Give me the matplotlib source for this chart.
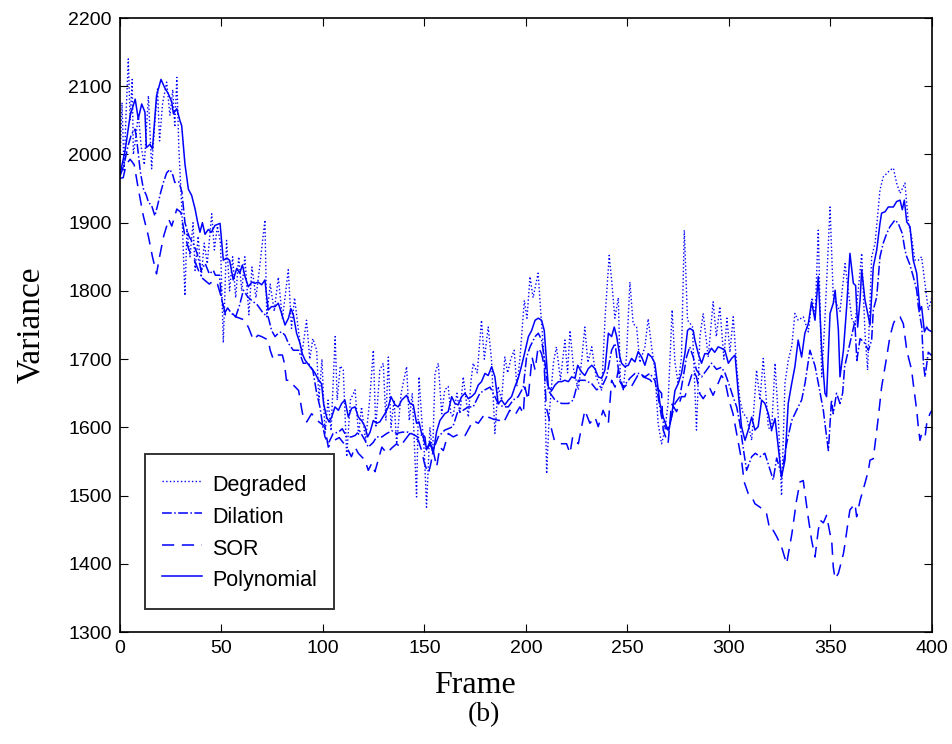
import numpy as np
import matplotlib
matplotlib.use('Agg')
import matplotlib.pyplot as plt

# values, (frame, variance) pairs per method
deg_f = [0, 1, 2, 3, 4.1, 5, 6, 6.6, 8, 9, 10.5, 12, 14, 15.6, 17, 18.5, 19.5, 21, 23, 24.6,
         26, 27, 28, 29, 30.4, 32, 33, 34.5, 36, 37, 38.5, 40, 41.5, 43, 45.2, 46.5, 48, 49.5,
         50.9, 52.5, 54, 55.5, 57, 58.5, 60, 61.5, 63.5, 65, 67, 69, 71.4, 72.3, 74, 76, 78, 80,
         81.5, 82.9, 84.5, 86, 88, 89.5, 91.9, 93.5, 95, 96.9, 98, 99.5, 101, 102.5, 104, 106,
         107, 108.5, 110, 111.7, 113.5, 115.8, 117.5, 119, 121, 123, 124.8, 126, 128, 129.7,
         131, 132.2, 133.5, 135, 136.3, 138.5, 141.2, 142.5, 144, 146.1, 147.3, 148.6, 150, 151,
         152.7, 154, 155.2, 156.8, 158.5, 160, 161.7, 163, 164, 166, 167.5, 169.1, 171.6, 173,
         174, 176, 178.1, 179.5, 181.4, 183, 184.7, 186.3, 188, 189.6, 191, 192.5, 194.2, 195.5,
         197, 199.2, 200.5, 202, 203.5, 206, 207.5, 209, 210.2, 211.5, 213.5, 215, 217, 219.2,
         220.5, 221.7, 223.5, 225.8, 227.5, 229, 230.5, 232.4, 234.5, 237.3, 239, 241, 242.2,
         243.8, 245.5, 246.5, 247.9, 249.5, 251.2, 252.8, 254.5, 256.1, 258.6, 260.2, 261.9,
         263.5, 265.1, 266.8, 268.4, 270, 272, 273.4, 275, 276.6, 278, 279.6, 282, 284, 285.7,
         287.3, 289.8, 292.2, 293.8, 295.5, 297.5, 299, 300.5, 302.1, 303.8, 305.4, 307, 308.7,
         311.2, 313.6, 315.3, 316.9, 319.4, 321, 322.7, 324.3, 325.9, 327.6, 329.2, 331, 332.5,
         334.1, 336.6, 339.1, 341, 342.4, 344, 345.7, 347.3, 349.8, 351.4, 353.1, 354.7, 357.2,
         358.8, 360.5, 362.1, 365.4, 367, 368.3, 370.3, 372, 374.4, 376, 377.7, 379.3, 381,
         382.6, 384.3, 386.7, 388.4, 390, 391.6, 393.3, 394.9, 396.6, 398.2, 400]
deg_v = [1990, 2076, 1975, 2060, 2140, 2050, 2110, 2000, 2030, 2060, 2010, 1985, 2086, 1979,
         2040, 2096, 2020, 2075, 2106, 2057, 2095, 2040, 2113, 2008, 1925, 1793, 1890, 1850,
         1900, 1830, 1880, 1820, 1870, 1840, 1913, 1860, 1895, 1870, 1724, 1874, 1800, 1850,
         1790, 1850, 1800, 1850, 1765, 1835, 1790, 1840, 1904, 1762, 1810, 1770, 1820, 1760,
         1795, 1831, 1745, 1790, 1740, 1705, 1757, 1700, 1730, 1713, 1640, 1700, 1590, 1640,
         1595, 1733, 1640, 1690, 1684, 1557, 1640, 1655, 1590, 1630, 1580, 1640, 1713, 1600,
         1684, 1694, 1610, 1703, 1600, 1640, 1576, 1650, 1689, 1610, 1650, 1498, 1674, 1615,
         1560, 1483, 1600, 1560, 1679, 1694, 1620, 1655, 1660, 1620, 1615, 1650, 1620, 1674,
         1615, 1670, 1694, 1680, 1757, 1700, 1747, 1700, 1591, 1660, 1640, 1703, 1680, 1700,
         1713, 1660, 1700, 1786, 1760, 1821, 1790, 1826, 1760, 1700, 1532, 1620, 1694, 1718,
         1670, 1728, 1680, 1742, 1685, 1655, 1700, 1747, 1695, 1718, 1675, 1654, 1762, 1852,
         1816, 1760, 1790, 1670, 1655, 1703, 1813, 1752, 1747, 1695, 1718, 1759, 1718, 1684,
         1606, 1576, 1595, 1635, 1772, 1695, 1664, 1703, 1889, 1757, 1748, 1596, 1733, 1767,
         1703, 1784, 1733, 1777, 1700, 1760, 1710, 1762, 1690, 1640, 1620, 1615, 1581, 1684,
         1640, 1701, 1600, 1595, 1694, 1615, 1500, 1665, 1698, 1720, 1767, 1757, 1762, 1740,
         1790, 1760, 1889, 1674, 1760, 1923, 1790, 1780, 1770, 1840, 1800, 1760, 1750, 1855,
         1740, 1684, 1850, 1870, 1948, 1967, 1972, 1977, 1980, 1958, 1943, 1958, 1900, 1879,
         1845, 1845, 1850, 1810, 1772, 1790]

dil_f = [0, 2, 4, 5.7, 7.4, 8.2, 10, 11.5, 13, 14, 15.6, 17.2, 18.5, 20, 21.4, 23, 24.6, 26,
         27, 29, 30.5, 32, 34, 36, 38, 40, 42, 44, 46, 47, 49, 50, 51.5, 53, 55, 57, 59, 60.8,
         63, 65.7, 67.5, 69, 70.6, 73, 74.7, 76.4, 78, 79.6, 81.3, 83, 85.4, 88, 90.3, 92.8, 95,
         96.9, 98.5, 100, 101, 102.6, 105, 107.6, 109.5, 111.7, 114, 115.8, 118, 120.7, 122.3,
         124.8, 126.4, 129, 131.4, 134, 136.3, 139, 142, 145.5, 147, 149, 151, 152.7, 154.3,
         156.8, 160, 161.7, 164, 166.6, 169, 171.6, 174, 177.3, 179.8, 182.3, 184.7, 186.3,
         188.8, 191.3, 193.7, 196.2, 198.7, 200.3, 202, 204.5, 206.1, 207.7, 209.4, 211, 214.3,
         217.6, 220.9, 223.3, 225.8, 229, 232.4, 234.8, 237.3, 239.7, 242.2, 243.9, 246.3, 247.9,
         251.2, 253.7, 256.1, 258.6, 261, 263.5, 265.1, 266.8, 268.4, 270, 271.7, 273.4, 275.8,
         277.5, 279.1, 280.7, 282.4, 284, 286.5, 289, 291.4, 293.9, 296.3, 298, 300.5, 302,
         303.8, 305.4, 307, 308.7, 311.2, 313, 315.3, 317.7, 319.5, 321.8, 323.5, 325.9, 328.4,
         330.9, 333.3, 335.8, 337.5, 339.9, 342.4, 344, 346.5, 347.3, 349, 350.5, 351.4, 353,
         354.7, 356, 357, 358.8, 360.5, 362, 363, 364.6, 366.5, 368.7, 370.3, 371.1, 372.8,
         374.4, 376, 377.7, 379.3, 381.8, 383.4, 385.4, 386.7, 387.6, 389.2, 390.8, 392.5,
         393.3, 395, 395.8, 396.6, 398.2, 400]
dil_v = [1968, 1985, 2013, 2030, 2037, 2023, 1975, 1950, 1940, 1930, 1925, 1910, 1925, 1944,
         1959, 1973, 1978, 1970, 1959, 1960, 1945, 1900, 1880, 1870, 1855, 1830, 1840, 1825,
         1830, 1823, 1823, 1790, 1767, 1775, 1767, 1762, 1780, 1801, 1791, 1784, 1780, 1774,
         1767, 1762, 1742, 1733, 1738, 1740, 1735, 1723, 1713, 1713, 1694, 1694, 1684, 1650,
         1630, 1600, 1586, 1576, 1591, 1593, 1598, 1586, 1586, 1588, 1595, 1581, 1571, 1578,
         1586, 1586, 1591, 1595, 1591, 1593, 1593, 1588, 1585, 1590, 1567, 1575, 1567, 1586,
         1596, 1598, 1601, 1625, 1625, 1630, 1630, 1650, 1655, 1659, 1645, 1635, 1630, 1630,
         1640, 1645, 1659, 1703, 1718, 1733, 1738, 1728, 1694, 1654, 1640, 1635, 1635, 1640,
         1669, 1669, 1664, 1655, 1659, 1674, 1713, 1723, 1667, 1659, 1672, 1679, 1679, 1674,
         1679, 1669, 1645, 1615, 1601, 1596, 1615, 1635, 1645, 1674, 1703, 1718, 1703, 1684,
         1674, 1684, 1694, 1685, 1688, 1680, 1659, 1645, 1630, 1605, 1570, 1537, 1557, 1562,
         1557, 1562, 1545, 1523, 1555, 1530, 1576, 1610, 1625, 1640, 1665, 1713, 1690, 1665,
         1625, 1605, 1566, 1640, 1620, 1650, 1635, 1650, 1689, 1713, 1735, 1755, 1698, 1730,
         1725, 1713, 1728, 1772, 1791, 1850, 1870, 1884, 1894, 1904, 1899, 1884, 1860, 1850,
         1838, 1821, 1801, 1777, 1747, 1694, 1674, 1710, 1705]

sor_f = [0, 1.6, 3, 5, 7, 9, 11.5, 14, 16, 18, 19.5, 21.5, 24, 25.5, 28, 30, 32, 34, 36, 38,
         40, 42, 44, 46, 48, 50, 52, 55, 57, 59, 61.6, 63.5, 65.7, 68, 69.8, 73, 74, 75.5, 78,
         80, 81, 82, 83.7, 85.4, 88, 89.5, 90.3, 92, 94.4, 96, 98, 101, 102.6, 105, 108, 111.7,
         114, 115.8, 117.4, 120.7, 122.3, 124, 125.6, 127, 129, 131.4, 134, 136.3, 138, 140,
         142.8, 144.5, 147, 148.6, 150, 151.9, 153, 154.3, 156, 157.6, 159.3, 161.7, 164.2,
         167.5, 170, 174, 176.5, 179.8, 181.4, 184, 187, 188.8, 192, 194.6, 197, 198.7, 199.5,
         201, 203, 204.5, 206, 207.7, 209, 210, 212.7, 214, 216.8, 220, 221.7, 223, 225.8, 229,
         231.5, 234, 235.6, 238, 240.6, 242.2, 243.9, 245.5, 247.9, 250.4, 252, 256, 257.8, 261,
         264, 266.8, 267.6, 270, 271.7, 274.2, 276.6, 278.3, 282.4, 284, 285.7, 287.3, 290.6,
         292.2, 296.3, 298, 300, 302, 303.8, 305.4, 306.2, 307.5, 309.5, 311, 312.8, 315.3,
         318.5, 320.2, 321.8, 323.5, 325.9, 328.4, 331, 333.3, 335, 336.6, 339, 340.7, 342.4,
         344, 344.9, 346.5, 348.1, 349.8, 350.6, 351.4, 352.3, 353.9, 354.7, 356.4, 357.2, 358.8,
         359.6, 362.1, 362.9, 364.6, 367, 368.7, 369.5, 371.1, 372, 373.6, 375.2, 376.9, 377.7,
         379.3, 381, 382.6, 384.3, 385.9, 387.6, 388.4, 390, 390.8, 392.5, 393.3, 394.1, 395,
         396.6, 397.4, 399, 400]
sor_v = [1965, 1966, 1985, 1993, 1985, 1950, 1910, 1880, 1850, 1825, 1850, 1880, 1905, 1895,
         1920, 1915, 1880, 1860, 1850, 1835, 1820, 1815, 1810, 1815, 1810, 1790, 1765, 1768,
         1762, 1760, 1757, 1745, 1728, 1735, 1733, 1728, 1713, 1700, 1706, 1706, 1694, 1669,
         1669, 1662, 1654, 1627, 1615, 1608, 1620, 1615, 1608, 1601, 1571, 1580, 1585, 1571,
         1557, 1571, 1562, 1552, 1537, 1547, 1535, 1550, 1571, 1562, 1570, 1576, 1571, 1580,
         1591, 1586, 1581, 1566, 1547, 1532, 1545, 1566, 1542, 1571, 1566, 1591, 1586, 1591,
         1588, 1610, 1606, 1620, 1615, 1612, 1610, 1606, 1625, 1618, 1630, 1620, 1659, 1640,
         1703, 1684, 1718, 1708, 1690, 1630, 1596, 1581, 1576, 1576, 1562, 1586, 1576, 1625,
         1606, 1615, 1601, 1625, 1606, 1669, 1659, 1684, 1657, 1665, 1660, 1681, 1674, 1670,
         1660, 1650, 1596, 1576, 1635, 1623, 1645, 1645, 1684, 1674, 1649, 1642, 1657, 1647,
         1676, 1669, 1640, 1620, 1591, 1566, 1552, 1520, 1503, 1500, 1488, 1483, 1474, 1449,
         1449, 1440, 1425, 1400, 1444, 1493, 1520, 1522, 1469, 1435, 1410, 1449, 1464, 1460,
         1471, 1444, 1435, 1395, 1378, 1386, 1395, 1415, 1430, 1464, 1479, 1488, 1469, 1493,
         1518, 1537, 1552, 1554, 1576, 1615, 1659, 1689, 1703, 1733, 1752, 1762, 1762, 1752,
         1713, 1703, 1684, 1664, 1625, 1600, 1581, 1591, 1586, 1605, 1620, 1625]

poly_f = [0, 2.5, 5, 7.5, 9, 10.7, 12.3, 13, 14.8, 16, 18, 20.2, 22, 23.8, 25.5, 26.3, 28, 29.5,
          30.4, 32, 33.7, 35.3, 37, 38.3, 39.4, 40.6, 41.9, 43.5, 45, 46.8, 49.3, 50.9, 52.5, 54,
          55.8, 57.5, 59, 60.3, 61.6, 63.2, 65, 66.5, 68, 69.8, 71.4, 73, 74.7, 76.4, 78, 79.6,
          81.3, 83, 84.2, 85.4, 87, 88.7, 89.8, 91.1, 93.6, 96, 97.7, 99.3, 100.3, 101.8, 103,
          104.3, 105.9, 107.6, 109.2, 110.8, 112.5, 114.1, 115.8, 117.4, 119, 120.7, 122, 123.2,
          124.8, 126.4, 128, 130.5, 132.2, 133.5, 135.5, 137.1, 138.8, 141.2, 142.8, 144.5,
          146.1, 147.3, 148.6, 150.2, 151, 152.7, 154.3, 156, 157.6, 160, 161.7, 163.4, 165,
          166.6, 168.3, 170, 171.6, 173.2, 174.9, 176.5, 178.1, 179.8, 181.4, 183.1, 184.7,
          186.3, 188, 189.6, 191.3, 192.9, 194.6, 196.2, 197.9, 199.5, 201.2, 202.8, 204.5,
          206.1, 207.7, 209, 210.2, 211, 212.7, 214.3, 216, 217.6, 219.2, 220.9, 222.5, 224.2,
          225.5, 227.4, 229, 230.7, 232.4, 234, 235.6, 237.3, 238.9, 240.6, 242.2, 243.5, 244.7,
          246.3, 247.1, 248.7, 250.4, 252, 253.7, 255.3, 257, 258.6, 260.2, 261.9, 263.5, 264.8,
          266, 267.6, 269.3, 270.4, 271.7, 273.4, 275, 276.6, 278.3, 279.6, 280.7, 282.4, 283.2,
          284.9, 286.5, 288.1, 289.8, 291.4, 293, 294.7, 296.3, 298, 299.7, 301.3, 303, 304.6,
          306.2, 307.9, 309.5, 311.2, 312.8, 314.4, 316.1, 317.7, 319.4, 321, 322.7, 324.3,
          325.9, 327.6, 329.2, 330.9, 332.5, 334.1, 335.8, 337.4, 339.1, 340.7, 342.4, 344,
          345.7, 347.3, 348.1, 349.8, 351.4, 352.3, 353.9, 354.7, 356.4, 358, 359.6, 361.3,
          362.4, 363.4, 364.6, 365.4, 367, 368.7, 369.5, 371.1, 372.8, 374.4, 375.2, 376.9,
          378.5, 381, 382.6, 384.3, 385.4, 386.4, 387.6, 389.2, 390.8, 392.5, 394.1, 394.9,
          396.3, 397.4, 398.2, 400]
poly_v = [1971, 2005, 2057, 2081, 2052, 2074, 2062, 2010, 2015, 2008, 2086, 2110, 2098, 2089,
          2077, 2060, 2067, 2050, 2042, 1986, 1949, 1940, 1920, 1900, 1886, 1900, 1883, 1890,
          1886, 1896, 1899, 1845, 1848, 1845, 1816, 1833, 1826, 1838, 1821, 1806, 1813, 1811,
          1813, 1809, 1816, 1772, 1777, 1777, 1782, 1767, 1750, 1760, 1774, 1765, 1738, 1723,
          1708, 1699, 1689, 1680, 1670, 1664, 1635, 1615, 1608, 1615, 1630, 1625, 1635, 1640,
          1615, 1628, 1630, 1615, 1610, 1601, 1586, 1593, 1610, 1606, 1608, 1620, 1630, 1645,
          1633, 1630, 1640, 1647, 1635, 1633, 1606, 1608, 1591, 1586, 1567, 1579, 1562, 1594,
          1610, 1620, 1623, 1645, 1635, 1633, 1645, 1650, 1642, 1645, 1650, 1662, 1667, 1679,
          1676, 1689, 1674, 1635, 1640, 1633, 1640, 1645, 1660, 1672, 1691, 1711, 1733, 1742,
          1757, 1760, 1757, 1742, 1694, 1659, 1654, 1662, 1667, 1667, 1669, 1667, 1674, 1672,
          1691, 1681, 1676, 1686, 1691, 1686, 1674, 1672, 1684, 1738, 1733, 1747, 1733, 1703,
          1694, 1689, 1691, 1701, 1696, 1711, 1703, 1691, 1708, 1703, 1694, 1664, 1635, 1615,
          1601, 1596, 1615, 1654, 1664, 1679, 1708, 1742, 1745, 1742, 1728, 1708, 1694, 1708,
          1708, 1716, 1710, 1718, 1716, 1713, 1694, 1701, 1706, 1650, 1601, 1581, 1596, 1615,
          1596, 1601, 1640, 1635, 1620, 1596, 1613, 1571, 1527, 1552, 1635, 1664, 1689, 1728,
          1703, 1738, 1752, 1784, 1757, 1821, 1713, 1650, 1645, 1767, 1782, 1801, 1743, 1674,
          1713, 1777, 1855, 1811, 1808, 1747, 1787, 1831, 1787, 1762, 1750, 1835, 1860, 1899,
          1914, 1916, 1923, 1923, 1931, 1933, 1919, 1933, 1901, 1894, 1845, 1826, 1772, 1777,
          1740, 1747, 1743, 1740]

x_ticks = np.arange(0, 401, 50)
y_ticks = np.arange(1300, 2201, 100)

plt.rcParams['font.family'] = ['Liberation Sans', 'DejaVu Sans']

fig = plt.figure(figsize=(9.53, 7.44), dpi=100)
ax = fig.add_axes([0.1259, 0.1505, 0.852, 0.8253])

ax.plot(deg_f, deg_v, color='blue', linestyle=':', lw=1.0, label='Degraded')
ax.plot(dil_f, dil_v, color='blue', linestyle='-.', lw=1.1, label='Dilation')
ax.plot(sor_f, sor_v, color='blue', linestyle=(0, (8, 5)), lw=1.1, label='SOR')
ax.plot(poly_f, poly_v, color='blue', linestyle='-', lw=1.1, label='Polynomial')

ax.set_xlim(0, 400)
ax.set_ylim(1300, 2200)
ax.set_xticks(x_ticks)
ax.set_yticks(y_ticks)
ax.tick_params(direction='in', length=6, width=0.8, labelsize=14,
               top=True, right=True, pad=6)
for s in ax.spines.values():
    s.set_linewidth(1.2)

# axis titles placed by hand, as in the original figure
fig.text(0.498, 0.078, 'Frame', family='Liberation Serif', fontsize=23,
         ha='center', va='center')
fig.text(0.032, 0.563, 'Variance', family='Liberation Serif', fontsize=24,
         ha='center', va='center', rotation=90)
fig.text(0.508, 0.040, '(b)', family='Liberation Serif', fontsize=20,
         ha='center', va='center')

leg = ax.legend(loc='lower left', bbox_to_anchor=(0.031, 0.037), borderaxespad=0,
                fontsize=15.5, frameon=True, fancybox=False, edgecolor='black',
                handlelength=1.86, handleheight=1.47, borderpad=0.8,
                labelspacing=0.27, handletextpad=0.45)
leg.get_frame().set_linewidth(1.4)

plt.savefig('out.png', dpi=100)
